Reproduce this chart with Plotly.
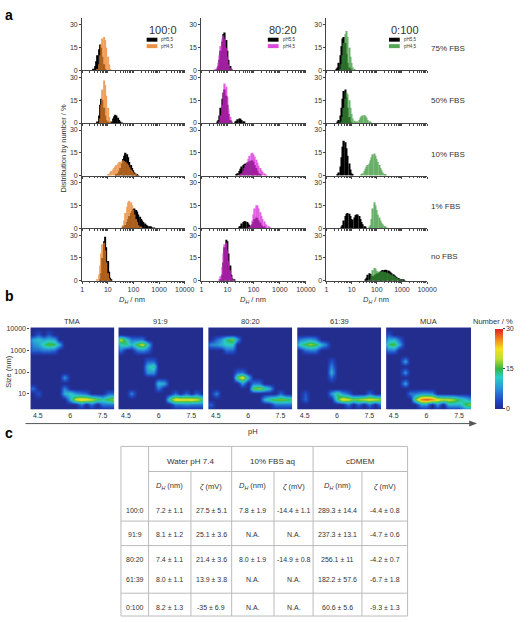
import numpy as np
import plotly.graph_objects as go

W, H = 529, 622
FONT = "Arial, Liberation Sans, sans-serif"
TXT = "#333333"


def px(x):
    return x / W


def py(y):
    return 1 - y / H


# ---------------- panel a : DLS number distributions ----------------
BIN_STEP = 0.05  # bin width in decades of D_H
SIZE_TICKS = [1, 10, 100, 1000, 10000]
SERUM = ["75% FBS", "50% FBS", "10% FBS", "1% FBS", "no FBS"]
RATIOS_A = ["100:0", "80:20", "0:100"]

# each entry: (log10 of first bin centre, % per bin)
PH55_100_0 = {
    "75% FBS": (0.45, [1, 3, 6, 10, 14, 17, 15, 9, 4, 1]),
    "50% FBS": (0.60, [1, 5, 12, 16, 15, 10, 5, 2, 0.5, 0, 0.3, 1, 3, 4.5, 5.5, 5, 3.5, 2, 1, 0.3]),
    "10% FBS": (1.35, [0.5, 1.5, 3, 5, 8, 11, 13, 15, 14, 12, 9, 7, 5, 3.5, 2, 1.2, 0.6, 0.3]),
    "1% FBS": (1.60, [0.5, 1, 2, 4, 6, 8, 10, 11.5, 12.5, 13, 12, 11, 9, 7.5, 6, 5, 4, 3, 2.3, 1.7, 1.2, 0.8, 0.5, 0.3, 0.2]),
    "no FBS": (0.70, [1, 5, 15, 26, 29, 22, 13, 6, 2, 0.5]),
}
PH45_100_0 = {
    "75% FBS": (0.60, [1, 4, 10, 17, 21, 22, 20, 15, 9, 4, 1]),
    "50% FBS": (0.70, [3, 12, 22, 28, 25, 18, 10, 4, 1]),
    "10% FBS": (1.00, [0.5, 1, 2, 3, 4, 5, 6, 7, 8, 9, 9, 9.5, 10, 9.5, 9, 8, 7, 5.5, 4, 3, 2, 1.2, 0.6, 0.3]),
    "1% FBS": (1.55, [0.5, 2, 5, 10, 14, 17, 18, 17, 15, 12, 9, 6, 4, 2, 1, 0.4]),
    "no FBS": (0.60, [1, 4, 10, 18, 24, 25, 20, 12, 5, 1.5, 0.3]),
}
PH55_80_20 = {
    "75% FBS": (0.60, [1, 3, 7, 13, 19, 24, 25, 20, 13, 7, 3, 1]),
    "50% FBS": (0.60, [0.5, 2, 5, 10, 16, 20, 22, 18, 12, 6, 2, 0.5, 0, 0, 0.5, 1.5, 2.5, 3, 2.8, 2, 1.2, 0.5]),
    "10% FBS": (1.35, [0.5, 1.5, 3, 4.5, 6, 7, 7.5, 8, 8.5, 9, 9.5, 10, 10, 9, 7, 5, 3, 1.5, 0.5]),
    "1% FBS": (1.45, [0.5, 1.5, 3, 4, 4.5, 4.5, 4, 3, 2, 1.5, 2.5, 4, 6, 7, 6.5, 5, 3.5, 2, 1, 0.5]),
    "no FBS": (0.75, [1, 4, 12, 22, 27, 26, 18, 10, 4, 1.5, 0.5]),
}
PH45_80_20 = {
    "75% FBS": (0.55, [0.5, 2, 5, 10, 16, 21, 23, 21, 15, 9, 4, 1.5, 0.4]),
    "50% FBS": (0.70, [1, 5, 12, 20, 26, 24, 17, 9, 4, 1]),
    "10% FBS": (1.50, [0.5, 1.5, 3, 5, 7, 9, 11, 13, 14.5, 15, 14, 12.5, 10.5, 8.5, 6.5, 5, 3.5, 2.5, 1.5, 0.8, 0.3]),
    "1% FBS": (1.85, [0.5, 2, 5, 9, 13, 15, 15, 13, 10.5, 8, 6, 4.5, 3, 2, 1.2, 0.6, 0.3]),
    "no FBS": (0.70, [0.5, 3, 9, 18, 24, 25, 20, 13, 7, 3, 1, 0.3]),
}
PH55_0_100 = {
    "75% FBS": (0.40, [0.5, 2, 5, 10, 16, 21, 22, 18, 11, 5, 2, 0.5]),
    "50% FBS": (0.45, [0.5, 2, 5, 10, 16, 21, 22, 17, 10, 4, 1]),
    "10% FBS": (0.45, [0.5, 2, 6, 12, 19, 23, 22, 18, 13, 8, 4, 1.5, 0.5]),
    "1% FBS": (0.60, [0.5, 2, 5, 8, 9.5, 10, 9.5, 8, 6, 5.5, 7, 8.5, 9, 9, 8, 6, 4, 2.5, 1.2, 0.5]),
    "no FBS": (1.55, [0.5, 2, 4, 5, 4.5, 3.5, 3, 3.5, 4, 4.5, 5, 5.5, 6, 6.5, 7, 7, 7.2, 7, 6.7, 6.2, 5.6, 5, 4.3, 3.6, 3, 2.4, 1.8, 1.3, 0.9, 0.6, 0.4, 0.2]),
}
PH45_0_100 = {
    "75% FBS": (0.55, [1, 4, 10, 18, 24, 26, 22, 15, 9, 5, 2, 0.5]),
    "50% FBS": (0.60, [1, 4, 10, 16, 20, 19, 15, 10, 6, 3, 1.5, 0.5, 0.3, 0.8, 2, 3.5, 4.5, 5, 5.2, 4.5, 3.5, 2, 1, 0.4]),
    "10% FBS": (1.40, [0.5, 1.5, 3, 4.5, 6, 7, 8, 10, 12, 14, 14.5, 13, 11, 9, 7, 5, 3.5, 2, 1, 0.4]),
    "1% FBS": (1.70, [0.5, 2, 6, 13, 17, 15, 12, 9, 7, 5, 3.5, 2.5, 1.5, 0.7, 0.3]),
    "no FBS": (1.75, [1, 4, 7, 8.5, 8, 6.5, 6, 6, 6, 6, 6, 5.8, 5.5, 5.2, 5, 4.6, 4.2, 3.8, 3.3, 2.8, 2.3, 1.8, 1.3, 0.8, 0.4]),
}
PH55 = [PH55_100_0, PH55_80_20, PH55_0_100]
PH45 = [PH45_100_0, PH45_80_20, PH45_0_100]
COL_COLORS = ["rgb(232,128,40)", "rgb(215,40,215)", "rgb(55,150,55)"]

# ---------------- panel b : size vs pH maps ----------------
MAP_TITLES = ["TMA", "91:9", "80:20", "61:39", "MUA"]
PH_GRID = np.arange(4.0, 8.26, 0.25)
LOGD_GRID = np.arange(0.0, 4.26, 0.25)
# (pH, size nm, number %)
MAP_TMA = [(4.25, 3200, 9), (4.5, 3200, 11), (4.75, 3200, 9), (5.0, 3200, 10), (5.25, 3200, 9),
           (4.25, 1800, 7), (4.5, 1800, 9), (4.75, 1800, 13), (5.0, 1800, 16), (5.25, 1800, 15), (5.5, 1800, 9),
           (4.25, 1000, 5), (4.5, 1000, 5), (4.75, 1000, 6), (5.0, 1000, 6), (5.25, 1000, 5),
           (4.5, 5600, 4), (5.0, 5600, 4),
           (5.75, 56, 8), (5.75, 18, 7), (4.25, 18, 6), (4.5, 10, 4),
           (5.75, 10, 10), (6.0, 10, 12), (6.25, 10, 8), (6.5, 10, 6), (6.75, 10, 5), (7.75, 10, 5), (8.0, 10, 5),
           (6.0, 5.6, 10), (6.25, 5.6, 20), (6.5, 5.6, 23), (6.75, 5.6, 22), (7.0, 5.6, 20), (7.25, 5.6, 16),
           (7.5, 5.6, 13), (7.75, 5.6, 16), (8.0, 5.6, 18),
           (6.5, 3.2, 6), (7.0, 3.2, 6), (7.5, 3.2, 6), (7.75, 3.2, 6), (8.0, 3.2, 6)]
MAP_91_9 = [(4.25, 3200, 20), (4.5, 3200, 12), (4.75, 3200, 6), (5.0, 3200, 6), (5.25, 3200, 6),
            (4.25, 1800, 12), (4.5, 1800, 14), (4.75, 1800, 10), (5.0, 1800, 16), (5.25, 1800, 20), (5.5, 1800, 12),
            (4.25, 1000, 6), (5.0, 1000, 6), (5.25, 1000, 7), (5.5, 1000, 5),
            (5.5, 320, 5), (5.75, 320, 5), (5.5, 180, 10), (5.75, 180, 14), (5.5, 100, 8), (5.75, 100, 8),
            (6.0, 32, 11), (6.25, 32, 9), (6.0, 18, 6), (4.75, 10, 7), (6.5, 5.6, 14),
            (6.75, 5.6, 22), (7.0, 5.6, 22), (7.25, 5.6, 21), (7.5, 5.6, 22), (7.75, 5.6, 20), (8.0, 5.6, 16),
            (6.75, 3.2, 6), (7.0, 3.2, 6), (7.25, 3.2, 7), (7.5, 3.2, 6), (7.75, 3.2, 6), (8.0, 3.2, 6),
            (6.75, 10, 5), (7.25, 10, 5), (7.75, 10, 5)]
MAP_80_20 = [(4.25, 1800, 7), (4.5, 1800, 8), (4.75, 1800, 10), (5.0, 1800, 12), (5.25, 1800, 12),
             (4.5, 3200, 5), (4.75, 3200, 8), (5.0, 3200, 14), (5.25, 3200, 17), (5.5, 3200, 8),
             (5.0, 1000, 5), (5.25, 1000, 5),
             (5.5, 100, 5), (5.75, 100, 6), (5.5, 56, 16), (5.75, 56, 22), (6.0, 56, 10), (5.75, 32, 8),
             (6.25, 18, 16), (6.5, 18, 18), (6.75, 18, 14), (7.0, 18, 10), (6.5, 32, 6), (6.25, 32, 6),
             (4.5, 10, 7), (4.25, 3.2, 5),
             (6.75, 5.6, 10), (7.0, 5.6, 14), (7.25, 5.6, 16), (7.5, 5.6, 17), (7.75, 5.6, 16), (8.0, 5.6, 14),
             (7.25, 3.2, 6), (7.5, 3.2, 6), (7.75, 3.2, 6), (8.0, 3.2, 6), (7.5, 10, 5)]
MAP_61_39 = [(4.25, 1800, 12), (4.5, 1800, 15), (4.75, 1800, 18), (5.0, 1800, 16), (5.25, 1800, 10), (5.5, 1800, 6),
             (4.25, 3200, 6), (4.5, 3200, 8), (4.75, 3200, 9), (5.0, 3200, 7),
             (4.5, 1000, 5), (4.75, 1000, 6), (5.0, 1000, 6),
             (5.75, 320, 4), (5.75, 180, 7), (5.75, 100, 10), (5.75, 56, 5), (4.5, 5.6, 5), (4.5, 10, 4),
             (5.75, 10, 8), (6.0, 10, 14), (6.25, 10, 8), (6.5, 10, 5), (7.5, 10, 5),
             (6.0, 5.6, 14), (6.25, 5.6, 22), (6.5, 5.6, 20),
             (6.75, 5.6, 17), (7.0, 5.6, 18), (7.25, 5.6, 20), (7.5, 5.6, 21), (7.75, 5.6, 20), (8.0, 5.6, 18),
             (6.5, 3.2, 6), (7.0, 3.2, 5), (7.5, 3.2, 6), (8.0, 3.2, 6)]
MAP_MUA = [(4.25, 1800, 14), (4.5, 1800, 16), (4.75, 1800, 9), (4.25, 3200, 9), (4.5, 3200, 10), (4.75, 3200, 5),
           (4.25, 1000, 6), (4.5, 1000, 6), (4.25, 5600, 4),
           (5.0, 320, 9), (5.0, 100, 8), (5.0, 32, 9),
           (5.25, 10, 6), (5.5, 10, 6), (5.75, 10, 8), (6.0, 10, 8), (6.25, 10, 7),
           (5.5, 5.6, 16), (5.75, 5.6, 27), (6.0, 5.6, 29), (6.25, 5.6, 27),
           (6.5, 5.6, 22), (6.75, 5.6, 20), (7.0, 5.6, 20), (7.25, 5.6, 18), (7.5, 5.6, 14), (7.75, 5.6, 12),
           (8.0, 5.6, 8), (5.75, 3.2, 8), (6.0, 3.2, 8), (6.5, 3.2, 8), (7.0, 3.2, 10), (7.25, 3.2, 10),
           (7.5, 3.2, 10), (7.75, 3.2, 14), (8.0, 3.2, 18), (7.75, 1.8, 5), (8.0, 1.8, 5)]
MAPS = [MAP_TMA, MAP_91_9, MAP_80_20, MAP_61_39, MAP_MUA]
MAP_COLORSCALE = [[0, "#232d8e"], [0.1, "#1f45c0"], [0.25, "#2a8fd8"], [0.4, "#2ad0c8"],
                  [0.5, "#35b545"], [0.63, "#c0e030"], [0.75, "#f5e020"], [0.88, "#f08020"], [1, "#e02020"]]

# ---------------- panel c : table ----------------
TABLE_GROUPS = ["Water pH 7.4", "10% FBS aq", "cDMEM"]
TABLE_SUB = ["<i>D</i><sub><i>H</i></sub> (nm)", "<i>ζ</i> (mV)"] * 3
TABLE_ROWS = ["100:0", "91:9", "80:20", "61:39", "0:100"]
DH_WATER = ["7.2 ± 1.1", "8.1 ± 1.2", "7.4 ± 1.1", "8.0 ± 1.1", "8.2 ± 1.3"]
ZETA_WATER = ["27.5 ± 5.1", "25.1 ± 3.6", "21.4 ± 3.6", "13.9 ± 3.8", "-35 ± 6.9"]
DH_FBS = ["7.8 ± 1.9", "N.A.", "8.0 ± 1.9", "N.A.", "N.A."]
ZETA_FBS = ["-14.4 ± 1.1", "N.A.", "-14.9 ± 0.8", "N.A.", "N.A."]
DH_DMEM = ["289.3 ± 14.4", "237.3 ± 13.1", "256.1 ± 11", "182.2 ± 57.6", "60.6 ± 5.6"]
ZETA_DMEM = ["-4.4 ± 0.8", "-4.7 ± 0.6", "-4.2 ± 0.7", "-6.7 ± 1.8", "-9.3 ± 1.3"]
TABLE_COLS = [DH_WATER, ZETA_WATER, DH_FBS, ZETA_FBS, DH_DMEM, ZETA_DMEM]

# ================= build figure =================
fig = go.Figure()
layout = dict(width=W, height=H, margin=dict(l=0, r=0, t=0, b=0), paper_bgcolor="white",
              plot_bgcolor="white", barmode="overlay", showlegend=False,
              font=dict(family=FONT, size=7, color=TXT))
annotations, shapes = [], []


def ann(x, y, text, size=7, xanchor="center", yanchor="middle", **kw):
    annotations.append(dict(x=px(x), y=py(y), xref="paper", yref="paper", text=text, showarrow=False,
                            xanchor=xanchor, yanchor=yanchor, font=dict(size=size, family=FONT, color=kw.pop("color", TXT)), **kw))


COL_X = [(82, 187), (204, 311), (332, 435)]
ROW_BOTTOM = [69, 122, 175, 228, 281]
ROW_H = 53
MINOR = [np.log10(k * 10 ** d) for d in range(4) for k in range(2, 10)]

for r, serum in enumerate(SERUM):
    for c in range(3):
        idx = r * 3 + c + 1
        xs = "x" if idx == 1 else f"x{idx}"
        ys = "y" if idx == 1 else f"y{idx}"
        for data, colr, op in ((PH55[c], "black", 1.0), (PH45[c], COL_COLORS[c], 0.75)):
            start, vals = data[serum]
            xv = [start + i * BIN_STEP for i in range(len(vals))]
            fig.add_trace(go.Bar(x=xv, y=vals, width=BIN_STEP, marker=dict(color=colr, line=dict(width=0)),
                                 opacity=op, xaxis=xs, yaxis=ys, hoverinfo="skip"))
        x0, x1 = COL_X[c]
        b = ROW_BOTTOM[r]
        layout["xaxis" if idx == 1 else f"xaxis{idx}"] = dict(
            domain=[px(x0), px(x1)], anchor=ys, range=[0, 4], showgrid=False, zeroline=False,
            showline=True, linecolor="#444", linewidth=1, ticks="outside", ticklen=2, tickcolor="#444",
            tickvals=[np.log10(v) for v in SIZE_TICKS], ticktext=[str(v) for v in SIZE_TICKS],
            showticklabels=(r == 4), tickfont=dict(size=7, color=TXT),
            minor=dict(tickmode="array", tickvals=MINOR, ticks="outside", ticklen=1.5, tickcolor="#444"))
        layout["yaxis" if idx == 1 else f"yaxis{idx}"] = dict(
            domain=[py(b), py(b - ROW_H)], anchor=xs, range=[0, 34.6], showgrid=False, zeroline=False,
            showline=True, linecolor="#444", linewidth=1, ticks="outside", ticklen=2, tickcolor="#444",
            tickvals=[0, 15, 30], tickfont=dict(size=7, color=TXT))

# panel a labels
for c, (title, (lx, tx)) in enumerate(zip(RATIOS_A, [(148, 165), (272, 287.5), (396, 412)])):
    ann(tx, 28, title, size=11)
    shapes.append(dict(type="rect", xref="paper", yref="paper", x0=px(lx), x1=px(lx + 11), y0=py(40), y1=py(36),
                       fillcolor="black", line=dict(width=0)))
    shapes.append(dict(type="rect", xref="paper", yref="paper", x0=px(lx), x1=px(lx + 11), y0=py(46.5), y1=py(42.5),
                       fillcolor=COL_COLORS[c], opacity=0.85, line=dict(width=0)))
    ann(lx + 13, 38, "pH5,5", size=4.5, xanchor="left")
    ann(lx + 13, 44.5, "pH4,5", size=4.5, xanchor="left")
    ann((COL_X[c][0] + COL_X[c][1]) / 2 - 1, 300, "<i>D</i><sub><i>H</i></sub> / nm", size=7.5)
for serum, yy in zip(SERUM, [47, 99, 154, 206, 257]):
    ann(437, yy, serum, size=8, xanchor="left")
ann(63, 148, "Distribution by number / %", size=7.5, textangle=-90)
ann(1, 13, "<b>a</b>", size=14, xanchor="left", color="black")
ann(1, 296, "<b>b</b>", size=14, xanchor="left", color="black")
ann(1, 434, "<b>c</b>", size=14, xanchor="left", color="black")

# panel b maps
MAP_X = [(29, 115), (119, 206), (211, 297), (302, 388), (393, 480)]
for k, (entries, title) in enumerate(zip(MAPS, MAP_TITLES)):
    z = np.zeros((len(LOGD_GRID), len(PH_GRID)))
    for ph, nm, v in entries:
        i, j = int(round(np.log10(nm) / 0.25)), int(round((ph - 4.0) / 0.25))
        z[i, j] = max(z[i, j], v)
    idx = 16 + k
    fig.add_trace(go.Heatmap(x=PH_GRID, y=LOGD_GRID, z=z, zmin=0, zmax=30, zsmooth="best",
                             colorscale=MAP_COLORSCALE, showscale=(k == 0), xaxis=f"x{idx}", yaxis=f"y{idx}",
                             hoverinfo="skip",
                             colorbar=dict(x=px(504), xanchor="left", y=py(369.5), yanchor="middle",
                                           len=81 / H, lenmode="fraction", thickness=8, thicknessmode="pixels",
                                           tickvals=[0, 15, 30], ticks="outside", ticklen=2,
                                           tickfont=dict(size=7, color=TXT), outlinewidth=0, xpad=0, ypad=0)))
    x0, x1 = MAP_X[k]
    layout[f"xaxis{idx}"] = dict(domain=[px(x0), px(x1)], anchor=f"y{idx}", range=[4.15, 8.05],
                                 showgrid=False, zeroline=False, showline=False, ticks="",
                                 tickvals=[4.5, 6, 7.5], ticktext=["4.5", "6", "7.5"],
                                 tickfont=dict(size=7, color=TXT))
    layout[f"yaxis{idx}"] = dict(domain=[py(411), py(328)], anchor=f"x{idx}", range=[0.27, 4.05],
                                 showgrid=False, zeroline=False, showline=False,
                                 ticks="outside" if k == 0 else "", ticklen=2, tickcolor="#444",
                                 tickvals=[1, 2, 3, 4], ticktext=["10", "100", "1000", "10000"],
                                 showticklabels=(k == 0), tickfont=dict(size=7, color=TXT))
    ann((x0 + x1) / 2, 322, title, size=7.5)
ann(502, 322, "Number / %", size=7.5)
ann(6, 372, "Size (nm)", size=7.5, textangle=-90)
ann(257, 433, "pH", size=7.5)
shapes.append(dict(type="line", xref="paper", yref="paper", x0=px(24), x1=px(480), y0=py(425), y1=py(425),
                   line=dict(color="#555", width=1)))
shapes.append(dict(type="path", xref="paper", yref="paper",
                   path=f"M {px(478)},{py(422)} L {px(486)},{py(425)} L {px(478)},{py(428)} Z",
                   fillcolor="#555", line=dict(width=0)))

# panel c table
TX = [121.7, 150, 193.3, 235, 278.3, 318.3, 368.3, 415]
T_TOP, T_HDR, T_BOT = 448, 473.3, 619
LC = "#bbbbbb"


def tline(x0, y0, x1, y1):
    shapes.append(dict(type="line", xref="paper", yref="paper", x0=px(x0), y0=py(y0), x1=px(x1), y1=py(y1),
                       line=dict(color=LC, width=1)))


tline(TX[0], T_TOP, TX[-1], T_TOP)
tline(TX[0], T_BOT, TX[-1], T_BOT)
tline(TX[1], T_HDR, TX[-1], T_HDR)
for yy in (523.3, 548, 596):
    tline(TX[0], yy, TX[-1], yy)
for i, xx in enumerate(TX):
    tline(xx, T_TOP if i in (0, 1, 3, 5, 7) else T_HDR, xx, T_BOT)
for g, name in enumerate(TABLE_GROUPS):
    ann((TX[1 + 2 * g] + TX[3 + 2 * g]) / 2, 463, name, size=8)
for j, sub in enumerate(TABLE_SUB):
    ann((TX[1 + j] + TX[2 + j]) / 2, 488.3, sub, size=7.5)
ROW_Y = [512.7, 536.7, 561.7, 581.7, 610]
for i, (lab, yy) in enumerate(zip(TABLE_ROWS, ROW_Y)):
    ann((TX[0] + TX[1]) / 2, yy, lab, size=7)
    for j, col in enumerate(TABLE_COLS):
        ann((TX[1 + j] + TX[2 + j]) / 2, yy, col[i], size=7)

layout["annotations"] = annotations
layout["shapes"] = shapes
fig.update_layout(**layout)
fig.write_html("out.html")
